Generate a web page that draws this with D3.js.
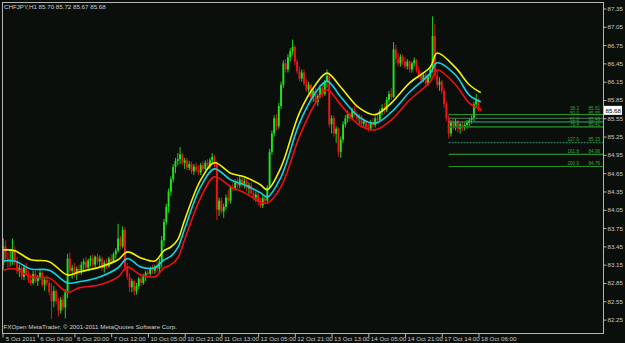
<!DOCTYPE html>
<html>
<head>
<meta charset="utf-8">
<script src="https://cdn.jsdelivr.net/npm/d3@7"></script>
<style>
    html, body { margin: 0; padding: 0; background: #0b0f0b; }
    svg { display: block; }
    text { font-family: "Liberation Sans", Arial, sans-serif; }
    .axis text { fill: #c8c8c8; font-size: 6.2px; }
    .axis line { stroke: #b4b4b4; }
</style>
</head>
<body>
<div id="chart"></div>
<script>
/*
    CHFJPY H1 candlestick chart (MetaTrader style) with three moving averages
    and a Fibonacci expansion on the right.
*/

// Hourly bars, 5 Oct 13:00 ... 18 Oct 08:00
const opens = [
    83.15, 83.45, 83.25, 83.20, 83.22, 83.40, 83.20, 83.05, 83.10, 82.95,
    83.10, 83.00, 82.90, 82.85, 83.00, 82.88, 82.95, 83.02, 82.82, 82.90,
    82.85, 82.70, 82.55, 82.72, 82.55, 82.40, 82.58, 82.45, 82.70, 83.25,
    83.05, 83.10, 83.00, 83.08, 83.02, 83.15, 83.20, 83.10, 83.22, 83.25,
    83.15, 83.28, 83.20, 83.25, 83.10, 83.18, 83.12, 83.25, 83.20, 83.32,
    83.38, 83.58, 83.45, 83.72, 83.10, 82.95, 82.78, 82.88, 82.72, 82.80,
    82.92, 82.85, 82.97, 83.02, 83.00, 83.08, 83.05, 83.12, 83.08, 83.20,
    83.55, 83.85, 84.10, 84.35, 84.55, 84.75, 84.85, 84.88, 84.96, 84.82,
    84.86, 84.74, 84.80, 84.68, 84.76, 84.70, 84.66, 84.78, 84.72, 84.82,
    84.76, 84.86, 84.92, 84.80, 84.05, 84.20, 84.02, 84.10, 84.25, 84.20,
    84.42, 84.40, 84.50, 84.45, 84.55, 84.48, 84.52, 84.40, 84.45, 84.32,
    84.25, 84.30, 84.18, 84.12, 84.24, 84.20, 84.42, 85.00, 85.30, 85.55,
    85.42, 85.75, 86.10, 86.45, 86.35, 86.55, 86.65, 86.72, 86.48, 86.32,
    86.20, 86.30, 86.12, 86.02, 86.10, 85.90, 86.00, 85.82, 85.92, 86.05,
    85.95, 86.15, 86.25, 85.45, 85.55, 85.30, 85.38, 85.00, 85.20, 85.45,
    85.55, 85.62, 85.55, 85.68, 85.62, 85.55, 85.58, 85.46, 85.50, 85.40,
    85.38, 85.48, 85.44, 85.55, 85.52, 85.66, 85.72, 85.68, 85.85, 85.95,
    85.90, 86.68, 86.52, 86.45, 86.56, 86.48, 86.40, 86.48, 86.35, 86.45,
    86.50, 86.34, 86.25, 86.18, 86.26, 86.12, 86.24, 86.35, 86.90, 86.25,
    86.10, 86.15, 86.00, 85.78, 85.55, 85.30, 85.48, 85.40, 85.50, 85.38,
    85.45, 85.40, 85.44, 85.48, 85.52, 85.56, 85.78, 85.86, 85.70
];
const highs = [
    83.58, 83.55, 83.35, 83.40, 83.58, 83.45, 83.28, 83.15, 83.12, 83.15,
    83.18, 83.05, 83.00, 83.05, 83.05, 82.98, 83.08, 83.05, 82.95, 82.98,
    82.90, 82.85, 82.80, 82.75, 82.60, 82.62, 82.65, 82.75, 83.33, 83.35,
    83.15, 83.18, 83.12, 83.15, 83.20, 83.25, 83.28, 83.25, 83.30, 83.32,
    83.30, 83.33, 83.30, 83.28, 83.22, 83.25, 83.28, 83.32, 83.35, 83.42,
    83.82, 83.62, 83.78, 83.76, 83.18, 83.00, 82.92, 82.90, 82.85, 82.95,
    82.98, 83.00, 83.05, 83.10, 83.12, 83.15, 83.15, 83.20, 83.25, 83.62,
    83.90, 84.15, 84.40, 84.60, 84.80, 84.90, 84.98, 85.08, 84.98, 84.90,
    84.90, 84.85, 84.84, 84.80, 84.82, 84.78, 84.82, 84.85, 84.86, 84.88,
    84.90, 84.98, 84.95, 84.85, 84.25, 84.25, 84.15, 84.30, 84.38, 84.45,
    84.50, 84.55, 84.58, 84.60, 84.62, 84.58, 84.58, 84.50, 84.50, 84.40,
    84.35, 84.35, 84.25, 84.28, 84.30, 84.45, 85.05, 85.35, 85.60, 85.62,
    85.80, 86.15, 86.50, 86.52, 86.60, 86.70, 86.84, 86.75, 86.52, 86.40,
    86.35, 86.35, 86.20, 86.15, 86.12, 86.05, 86.05, 85.95, 86.10, 86.12,
    86.18, 86.35, 86.30, 85.60, 85.60, 85.42, 85.40, 85.25, 85.50, 85.60,
    85.68, 85.65, 85.72, 85.75, 85.66, 85.62, 85.60, 85.55, 85.52, 85.48,
    85.52, 85.55, 85.58, 85.62, 85.70, 85.78, 85.80, 85.90, 86.00, 86.05,
    86.80, 86.75, 86.62, 86.60, 86.60, 86.55, 86.52, 86.50, 86.48, 86.55,
    86.52, 86.40, 86.32, 86.30, 86.30, 86.28, 86.40, 87.22, 87.10, 86.35,
    86.22, 86.18, 86.05, 85.82, 85.60, 85.52, 85.55, 85.55, 85.52, 85.48,
    85.50, 85.48, 85.52, 85.55, 85.60, 85.82, 85.95, 85.88, 85.72
];
const lows = [
    83.07, 83.20, 83.10, 83.12, 83.15, 83.15, 83.00, 82.95, 82.90, 82.90,
    82.98, 82.85, 82.80, 82.82, 82.85, 82.80, 82.90, 82.78, 82.72, 82.80,
    82.65, 82.26, 82.45, 82.50, 82.30, 82.35, 82.40, 82.27, 82.60, 83.00,
    82.92, 82.95, 82.90, 82.98, 82.98, 83.05, 83.05, 83.05, 83.12, 83.10,
    83.10, 83.15, 83.12, 83.05, 83.02, 83.08, 83.10, 83.15, 83.18, 83.25,
    83.35, 83.40, 83.42, 83.05, 82.90, 82.70, 82.70, 82.65, 82.66, 82.75,
    82.80, 82.82, 82.88, 82.95, 82.96, 83.00, 83.00, 83.02, 83.00, 83.10,
    83.45, 83.80, 84.00, 84.28, 84.50, 84.65, 84.78, 84.80, 84.78, 84.72,
    84.70, 84.70, 84.64, 84.62, 84.66, 84.62, 84.62, 84.68, 84.70, 84.72,
    84.72, 84.80, 84.74, 83.88, 83.95, 83.98, 83.92, 84.05, 84.15, 84.15,
    84.35, 84.36, 84.40, 84.40, 84.42, 84.40, 84.35, 84.30, 84.28, 84.20,
    84.18, 84.12, 84.08, 84.08, 84.15, 84.18, 84.40, 84.95, 85.25, 85.35,
    85.38, 85.70, 86.05, 86.30, 86.30, 86.48, 86.58, 86.42, 86.28, 86.15,
    86.15, 86.08, 85.98, 85.96, 85.85, 85.82, 85.78, 85.75, 85.88, 85.90,
    85.92, 86.05, 85.40, 85.30, 85.25, 85.15, 84.92, 84.90, 85.15, 85.40,
    85.48, 85.50, 85.52, 85.58, 85.50, 85.45, 85.42, 85.40, 85.36, 85.33,
    85.35, 85.40, 85.40, 85.48, 85.50, 85.60, 85.62, 85.65, 85.80, 85.85,
    85.88, 86.45, 86.40, 86.40, 86.42, 86.36, 86.35, 86.30, 86.30, 86.40,
    86.30, 86.20, 86.12, 86.14, 86.08, 86.08, 86.20, 86.30, 86.20, 86.05,
    86.00, 85.95, 85.72, 85.50, 85.22, 85.25, 85.36, 85.35, 85.32, 85.30,
    85.34, 85.35, 85.38, 85.40, 85.46, 85.50, 85.72, 85.66, 85.67
];
const closes = [
    83.45, 83.25, 83.20, 83.22, 83.40, 83.20, 83.05, 83.10, 82.95, 83.10,
    83.00, 82.90, 82.85, 83.00, 82.88, 82.95, 83.02, 82.82, 82.90, 82.85,
    82.70, 82.55, 82.72, 82.55, 82.40, 82.58, 82.45, 82.70, 83.25, 83.05,
    83.10, 83.00, 83.08, 83.02, 83.15, 83.20, 83.10, 83.22, 83.25, 83.15,
    83.28, 83.20, 83.25, 83.10, 83.18, 83.12, 83.25, 83.20, 83.32, 83.38,
    83.58, 83.45, 83.72, 83.10, 82.95, 82.78, 82.88, 82.72, 82.80, 82.92,
    82.85, 82.97, 83.02, 83.00, 83.08, 83.05, 83.12, 83.08, 83.20, 83.55,
    83.85, 84.10, 84.35, 84.55, 84.75, 84.85, 84.88, 84.96, 84.82, 84.86,
    84.74, 84.80, 84.68, 84.76, 84.70, 84.66, 84.78, 84.72, 84.82, 84.76,
    84.86, 84.92, 84.80, 84.05, 84.20, 84.02, 84.10, 84.25, 84.20, 84.42,
    84.40, 84.50, 84.45, 84.55, 84.48, 84.52, 84.40, 84.45, 84.32, 84.25,
    84.30, 84.18, 84.12, 84.24, 84.20, 84.42, 85.00, 85.30, 85.55, 85.42,
    85.75, 86.10, 86.45, 86.35, 86.55, 86.65, 86.72, 86.48, 86.32, 86.20,
    86.30, 86.12, 86.02, 86.10, 85.90, 86.00, 85.82, 85.92, 86.05, 85.95,
    86.15, 86.25, 85.45, 85.55, 85.30, 85.38, 85.00, 85.20, 85.45, 85.55,
    85.62, 85.55, 85.68, 85.62, 85.55, 85.58, 85.46, 85.50, 85.40, 85.38,
    85.48, 85.44, 85.55, 85.52, 85.66, 85.72, 85.68, 85.85, 85.95, 85.90,
    86.68, 86.52, 86.45, 86.56, 86.48, 86.40, 86.48, 86.35, 86.45, 86.50,
    86.34, 86.25, 86.18, 86.26, 86.12, 86.24, 86.35, 86.90, 86.25, 86.10,
    86.15, 86.00, 85.78, 85.55, 85.30, 85.48, 85.40, 85.50, 85.38, 85.45,
    85.40, 85.44, 85.48, 85.52, 85.56, 85.78, 85.86, 85.70, 85.68
];

// Moving averages, read at these bar positions
const maIndex = [0, 5, 12, 20, 28, 33, 42, 50, 54, 60, 66, 70, 73, 76, 79, 86, 92, 99,
    105, 112, 115, 121, 129, 136, 141, 147, 155, 162, 169, 177, 186, 189, 197, 203, 208];
const maYellow = [83.39, 83.38, 83.23, 83.20, 82.98, 83.03, 83.11, 83.23, 83.36, 83.26,
    83.21, 83.38, 83.44, 83.56, 83.88, 84.54, 84.82, 84.65, 84.59, 84.46, 84.38, 84.75,
    85.64, 86.10, 86.29, 86.06, 85.72, 85.61, 85.80, 86.13, 86.39, 86.62, 86.38, 86.10, 85.97];
const maCyan = [83.21, 83.21, 83.08, 83.06, 82.85, 82.87, 82.95, 83.10, 83.25, 83.11,
    83.10, 83.23, 83.29, 83.43, 83.74, 84.43, 84.72, 84.54, 84.46, 84.33, 84.26, 84.59,
    85.47, 85.97, 86.16, 85.90, 85.57, 85.47, 85.65, 85.98, 86.29, 86.46, 86.26, 85.93, 85.82];
const maRed = [83.06, 83.08, 82.95, 82.93, 82.70, 82.77, 82.82, 82.95, 83.11, 82.98,
    82.95, 83.10, 83.15, 83.26, 83.56, 84.25, 84.59, 84.43, 84.33, 84.18, 84.16, 84.43,
    85.25, 85.80, 86.02, 85.77, 85.44, 85.36, 85.52, 85.85, 86.15, 86.34, 86.10, 85.80, 85.69];

// Fibonacci expansion levels
const fibLevels = ["38.2", "50.0", "61.8", "76.4", "127.0", "161.8", "200.0"];
const fibPrices = [85.61, 85.55, 85.49, 85.41, 85.15, 84.96, 84.76];
const fibStart = 194;

// Axis labels
const yTicks = [87.35, 87.05, 86.75, 86.45, 86.15, 85.85, 85.55, 85.25, 84.95, 84.65,
    84.35, 84.05, 83.75, 83.45, 83.15, 82.85, 82.55, 82.25];
const xTickLabels = ["5 Oct 2011", "6 Oct 04:00", "6 Oct 20:00", "7 Oct 12:00", "10 Oct 05:00",
    "10 Oct 21:00", "11 Oct 13:00", "12 Oct 05:00", "12 Oct 21:00", "13 Oct 13:00",
    "14 Oct 05:00", "14 Oct 21:00", "17 Oct 14:00", "18 Oct 06:00"];
const quote = { symbol: "CHFJPY,H1", open: 85.70, high: 85.72, low: 85.67, close: 85.68 };

const width = 625, height = 343;
const plot = { left: 2.5, right: 603.5, top: 2.5, bottom: 333.5 };

const svg = d3.select("#chart").append("svg")
    .attr("width", width)
    .attr("height", height);

svg.append("rect")
    .attr("width", width).attr("height", height)
    .attr("fill", "#0b0f0b");

// bar index -> x, price -> y
const x = d3.scaleLinear().domain([0, 208]).range([3.3, 480.8]);
const y = d3.scaleLinear().domain([82.03, 87.44]).range([333, 3]);

const fmt = d3.format(".2f");

const bars = opens.map((o, i) => ({
    i, o, h: highs[i], l: lows[i], c: closes[i], up: closes[i] >= o
}));

svg.append("clipPath").attr("id", "plotclip")
    .append("rect")
    .attr("x", plot.left).attr("y", plot.top)
    .attr("width", plot.right - plot.left).attr("height", plot.bottom - plot.top);

const chart = svg.append("g").attr("clip-path", "url(#plotclip)");

const bullColor = "#1ee61e";
const bearColor = "#f01414";

// wicks
chart.append("g").selectAll("line")
    .data(bars)
    .join("line")
    .attr("x1", d => x(d.i)).attr("x2", d => x(d.i))
    .attr("y1", d => y(d.h)).attr("y2", d => y(d.l))
    .attr("stroke", d => d.up ? bullColor : bearColor)
    .attr("stroke-width", 0.9);

// bodies
chart.append("g").selectAll("rect")
    .data(bars)
    .join("rect")
    .attr("x", d => x(d.i) - 0.95)
    .attr("width", 1.9)
    .attr("y", d => y(Math.max(d.o, d.c)))
    .attr("height", d => Math.max(0.8, Math.abs(y(d.o) - y(d.c))))
    .attr("fill", d => d.up ? bullColor : bearColor);

// moving averages
const maLine = d3.line()
    .x(d => x(d.i))
    .y(d => y(d.v))
    .curve(d3.curveCatmullRom);

const maSeries = [
    { values: maYellow, color: "#f2f200" },
    { values: maCyan, color: "#10d4e4" },
    { values: maRed, color: "#ec1010" }
];

chart.selectAll(".ma")
    .data(maSeries)
    .join("path")
    .attr("class", "ma")
    .attr("fill", "none")
    .attr("stroke", d => d.color)
    .attr("stroke-width", 1.6)
    .attr("d", d => maLine(d.values.map((v, k) => ({ i: maIndex[k], v }))));

// fibonacci lines
const fibColors = ["#2ea02e", "#4b7d4b", "#2aa88c", "#1d741d", "#2b8f70", "#2eae4a", "#2a922a"];
const fib = fibLevels.map((lvl, k) => ({ k, lvl, p: fibPrices[k], color: fibColors[k] }));

chart.append("g").selectAll("line")
    .data(fib)
    .join("line")
    .attr("x1", x(fibStart)).attr("x2", plot.right)
    .attr("y1", d => y(d.p)).attr("y2", d => y(d.p))
    .attr("stroke", d => d.color)
    .attr("stroke-width", d => d.lvl === "76.4" ? 1.8 : 1)
    .attr("stroke-dasharray", d => d.lvl === "127.0" ? "2,1" : null);

// the four upper labels sit close together, so stack them upward from the 76.4 line
const fibLabelY = d => d.k < 4
    ? y(fibPrices[3]) - 0.8 - (3 - d.k) * 5.4
    : y(d.p) - 1.5;

const fibText = svg.append("g")
    .attr("font-size", "4.6px")
    .attr("fill", "#3aa83a");

fibText.selectAll(".lvl")
    .data(fib)
    .join("text")
    .attr("class", "lvl")
    .attr("x", 579)
    .attr("y", fibLabelY)
    .attr("text-anchor", "end")
    .text(d => d.lvl);

fibText.selectAll(".prc")
    .data(fib)
    .join("text")
    .attr("class", "prc")
    .attr("x", 600)
    .attr("y", fibLabelY)
    .attr("text-anchor", "end")
    .text(d => fmt(d.p));

// frame
svg.append("rect")
    .attr("x", plot.left).attr("y", plot.top)
    .attr("width", plot.right - plot.left).attr("height", plot.bottom - plot.top)
    .attr("fill", "none")
    .attr("stroke", "#b4b4b4")
    .attr("stroke-width", 1);

// price axis
const yAxis = svg.append("g")
    .attr("class", "axis")
    .attr("transform", `translate(${plot.right},0)`)
    .call(d3.axisRight(y).tickValues(yTicks).tickSize(3).tickPadding(1).tickFormat(fmt));
yAxis.select(".domain").remove();

// time axis
const xTickIdx = xTickLabels.map((t, k) => k === 0 ? 0 : 15 + (k - 1) * 16);
const xAxis = svg.append("g")
    .attr("class", "axis")
    .attr("transform", `translate(0,${plot.bottom})`)
    .call(d3.axisBottom(x).tickValues(xTickIdx).tickSize(4).tickFormat((d, k) => xTickLabels[k]));
xAxis.select(".domain").remove();
xAxis.selectAll(".tick line").attr("transform", (d, k) => k === 0 ? "translate(-0.8,0)" : null);
xAxis.selectAll(".tick text")
    .attr("text-anchor", "start")
    .attr("x", 2)
    .attr("y", 3)
    .attr("dy", "0.71em");

// current price marker
const last = closes[closes.length - 1];
svg.append("rect")
    .attr("x", 604).attr("y", y(last) - 4.5)
    .attr("width", 18).attr("height", 9)
    .attr("fill", "#ffffff");
svg.append("text")
    .attr("x", 605.5).attr("y", y(last))
    .attr("dy", "0.35em")
    .attr("font-size", "6.2px")
    .attr("fill", "#000000")
    .text(fmt(last));

// header and footer
svg.append("text")
    .attr("x", 4).attr("y", 8.5)
    .attr("font-size", "6.2px")
    .attr("fill", "#d0d0d0")
    .text(`${quote.symbol}  ${fmt(quote.open)} ${fmt(quote.high)} ${fmt(quote.low)} ${fmt(quote.close)}`);

svg.append("text")
    .attr("x", 3.5).attr("y", 329)
    .attr("font-size", "6.2px")
    .attr("fill", "#d0d0d0")
    .text("FXOpen MetaTrader, \u00a9 2001-2011 MetaQuotes Software Corp.");
</script>
</body>
</html>
